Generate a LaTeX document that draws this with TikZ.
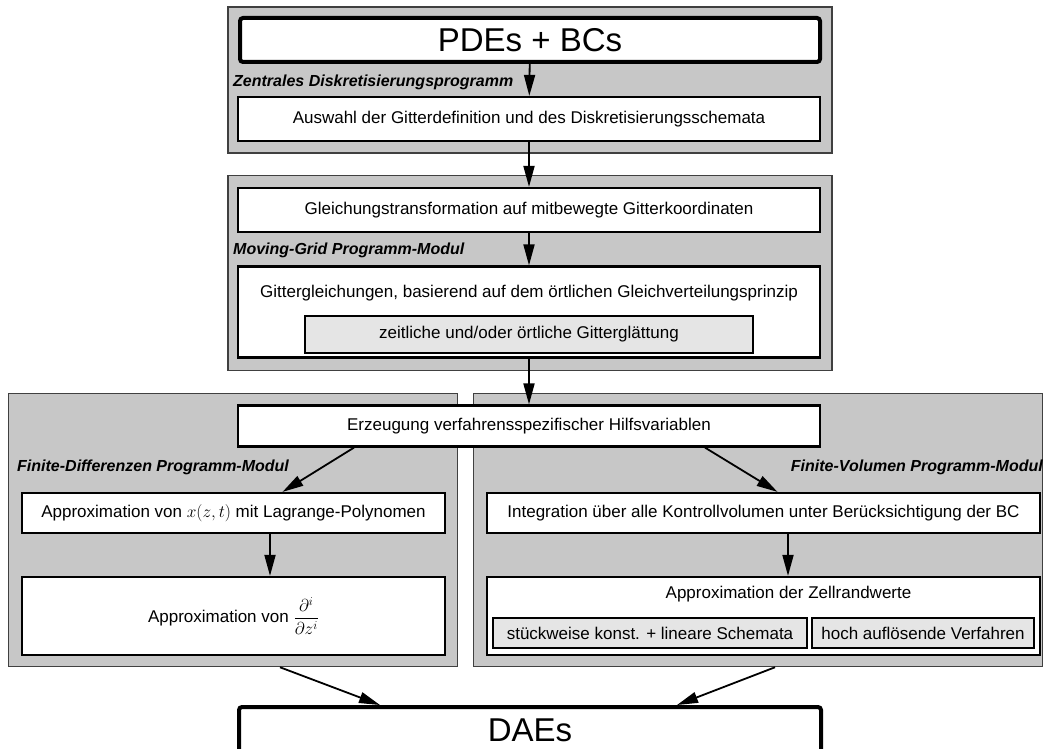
\documentclass[tikz,border=0pt]{standalone}
\usepackage{fontspec}
\setmainfont{Liberation Sans}
\usetikzlibrary{arrows.meta}

\begin{document}
\begin{tikzpicture}[x=1pt, y=-1pt,
        panel/.style={draw=black!75, line width=1.5pt, fill=black!22, inner sep=0pt},
        box/.style={draw, line width=2.2pt, fill=white, inner sep=0pt, font=\fontsize{17}{19}\selectfont},
        subbox/.style={draw, line width=2pt, fill=black!10, inner sep=0pt, font=\fontsize{17}{19}\selectfont},
        bigbox/.style={draw, line width=4pt, rounded corners=3pt, fill=white, inner sep=0pt, font=\fontsize{33}{36}\selectfont},
        modlabel/.style={font=\fontsize{16}{18}\selectfont\bfseries\itshape, inner sep=0pt},
        flow/.style={line width=1.8pt, -{Triangle[length=21pt, width=11pt]}}]
        \path[use as bounding box, fill=white] (0,0) rectangle (1046,749);

        % module panels
        \node[panel, minimum width=604, minimum height=146] (top) at (530,80) {};
        \node[panel, minimum width=604, minimum height=195] (mg) at (530,273) {};
        \node[panel, minimum width=449, minimum height=273] (fd) at (233,530) {};
        \node[panel, minimum width=569, minimum height=273] (fv) at (758,530) {};

        % central part
        \node[bigbox, minimum width=580, minimum height=44] (pde) at (530,40) {PDEs + BCs};
        \node[modlabel, anchor=west] (zdp) at (233,82) {Zentrales Diskretisierungsprogramm};
        \node[box, minimum width=582, minimum height=44] (ausw) at (529,119) {Auswahl der Gitterdefinition und des Diskretisierungsschemata};

        % moving grid
        \node[box, minimum width=582, minimum height=44] (trafo) at (529,210) {Gleichungstransformation auf mitbewegte Gitterkoordinaten};
        \node[modlabel, anchor=west] (mgm) at (233,250) {Moving-Grid Programm-Modul};
        \node[box, minimum width=582, minimum height=91,
            label={[anchor=north, yshift=-16pt, font=\fontsize{17}{19}\selectfont]north:Gittergleichungen, basierend auf dem örtlichen Gleichverteilungsprinzip}] (gitter) at (529,312) {};
        \node[subbox, minimum width=448, minimum height=37] (glatt) at (529,334) {zeitliche und/oder örtliche Gitterglättung};

        % finite differences / finite volumes
        \node[box, minimum width=582, minimum height=41] (hilf) at (529,426) {Erzeugung verfahrensspezifischer Hilfsvariablen};
        \node[modlabel, anchor=west] (fdm) at (17,467) {Finite-Differenzen Programm-Modul};
        \node[modlabel, anchor=east] (fvm) at (1043,467) {Finite-Volumen Programm-Modul};
        \node[box, minimum width=423, minimum height=40] (lagr) at (233.5,513) {Approximation von $x(z,t)$ mit Lagrange-Polynomen};
        \node[box, minimum width=423, minimum height=78] (ddz) at (233.5,616) {Approximation von $\displaystyle\frac{\partial^i}{\partial z^i}$};
        \node[box, minimum width=553, minimum height=40] (integ) at (763.5,513) {Integration über alle Kontrollvolumen unter Berücksichtigung der BC};
        \node[box, minimum width=553, minimum height=78,
            label={[anchor=north, xshift=25pt, yshift=-7pt, font=\fontsize{17}{19}\selectfont]north:Approximation der Zellrandwerte}] (zell) at (763.5,616) {};
        \node[subbox, minimum width=314, minimum height=30] (stk) at (650,633) {stückweise konst. + lineare Schemata};
        \node[subbox, minimum width=222, minimum height=30] (hoch) at (923,633) {hoch auflösende Verfahren};

        \node[bigbox, minimum width=582, minimum height=46] (dae) at (530,730) {DAEs};

        % arrows
        \draw[flow] (pde) -- (ausw);
        \draw[flow] (ausw) -- (trafo);
        \draw[flow] (trafo) -- (gitter);
        \draw[flow] (gitter) -- (hilf);
        \draw[flow] ([xshift=-175pt]hilf.south) -- ([xshift=49pt]lagr.north);
        \draw[flow] ([xshift=176pt]hilf.south) -- ([xshift=14pt]integ.north);
        \draw[flow] ([xshift=36.5pt]lagr.south) -- ([xshift=36.5pt]ddz.north);
        \draw[flow] ([xshift=24.5pt]integ.south) -- ([xshift=24.5pt]zell.north);
        \draw[flow] ([xshift=47pt]fd.south) -- ([xshift=-150pt]dae.north);
        \draw[flow] ([xshift=17pt]fv.south) -- ([xshift=147pt]dae.north);
\end{tikzpicture}
\end{document}
